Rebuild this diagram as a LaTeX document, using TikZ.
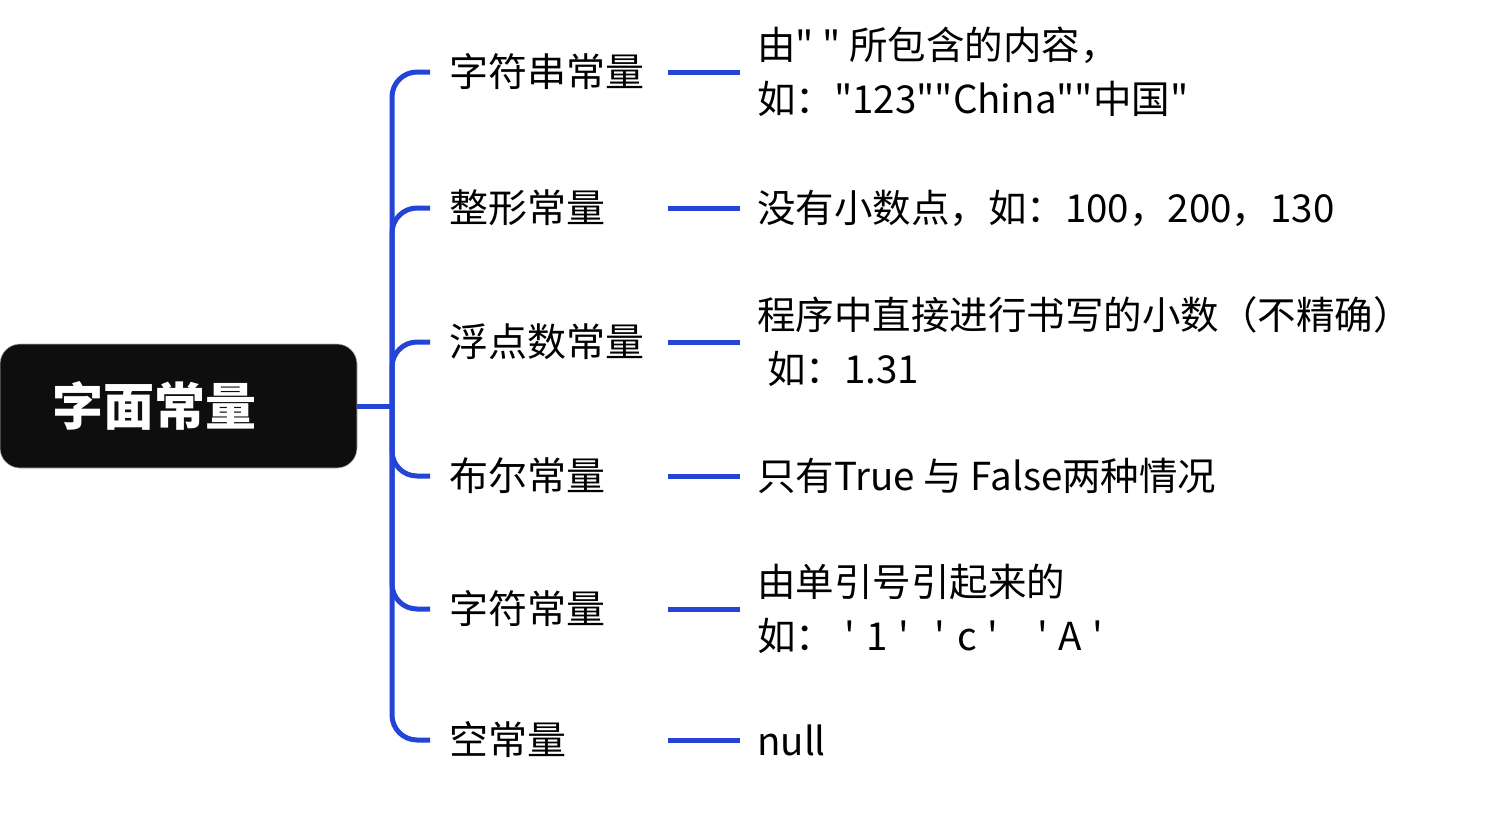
\documentclass[tikz,border=0pt]{standalone}
\usepackage{fontspec}
\newfontfamily\cjk{Noto Sans CJK SC}
\definecolor{lineblue}{HTML}{2444D8}
\definecolor{rootfill}{HTML}{0E0E0E}
\begin{document}
\begin{tikzpicture}[x=1pt,y=-1pt,
  conn/.style={draw=lineblue,line width=5pt},
  child/.style={anchor=west,text width=200pt,inner xsep=19pt,inner ysep=0pt,align=left,font=\cjk\fontsize{39}{54}\selectfont},
  desc/.style={anchor=west,inner xsep=17pt,inner ysep=0pt,align=left,font=\cjk\fontsize{38.5}{54}\selectfont},
  rootbox/.style={fill=rootfill,draw=gray!60,line width=0.6pt,rounded corners=20pt,minimum width=357pt,minimum height=124pt,inner sep=0pt,text=white,font=\cjk\bfseries\fontsize{51}{60}\selectfont}]
\useasboundingbox (0,0) rectangle (1491,812);
\node[rootbox] (root) at (178.5,406) {\makebox[253pt][l]{字面常量}};
\coordinate (hub) at (392,406);
\node[child] (c1) at (430,72) {字符串常量};
\node[child] (c2) at (430,208) {整形常量};
\node[child] (c3) at (430,342) {浮点数常量};
\node[child] (c4) at (430,476) {布尔常量};
\node[child] (c5) at (430,609) {字符常量};
\node[child] (c6) at (430,740) {空常量};
\node[desc] (d1) at (740,72) {由"\ "\ 所包含的内容，\\如："123""China""中国"};
\node[desc] (d2) at (740,208) {没有小数点，如：100，200，130};
\node[desc] (d3) at (740,342) {程序中直接进行书写的小数（不精确）\\\hspace*{10pt}如：1.31};
\node[desc] (d4) at (740,476) {只有True 与 False两种情况};
\node[desc] (d5) at (740,609) {由单引号引起来的\\如：\hspace{10pt}'\hspace{12pt}1\hspace{10pt}'\hspace{26pt}'\hspace{12pt}c\hspace{10pt}'\hspace{40pt}'\hspace{10pt}A\hspace{10pt}'};
\node[desc] (d6) at (740,740) {null};
\draw[conn] (root.east) -- (hub);
\foreach \c in {c1,c2,c3,c4,c5,c6}{
  \draw[conn,rounded corners=25pt] (hub) |- (\c.west);
}
\foreach \i in {1,...,6}{
  \draw[conn] (c\i.east) -- (d\i.west);
}
\end{tikzpicture}
\end{document}
